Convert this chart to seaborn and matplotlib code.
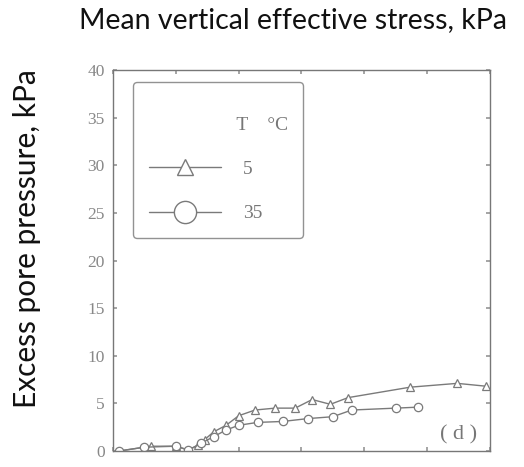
import matplotlib
matplotlib.use("Agg")
import matplotlib.pyplot as plt
from matplotlib.lines import Line2D
import seaborn as sns
import pandas as pd

# Data
x_5 = [1, 6, 10, 12, 13.5, 14.6, 16, 18, 20, 22.6, 25.8, 29, 31.7, 34.6, 37.4, 47.3, 54.8, 59.4]
y_5 = [0.0, 0.5, 0.5, 0.1, 0.6, 1.2, 2.0, 2.7, 3.7, 4.3, 4.5, 4.5, 5.4, 4.9, 5.6, 6.7, 7.1, 6.8]
x_35 = [1, 5, 10, 12, 14, 16, 18, 20, 23, 27, 31, 35, 38, 45, 48.5]
y_35 = [0.0, 0.4, 0.5, 0.1, 0.8, 1.5, 2.2, 2.7, 3.0, 3.1, 3.4, 3.6, 4.3, 4.5, 4.6]
temps = ["5", "35"]
y_ticks = [0, 5, 10, 15, 20, 25, 30, 35, 40]
x_ticks = [0, 10, 20, 30, 40, 50, 60]

df = pd.concat([
    pd.DataFrame({"x": x_5, "y": y_5, "T": temps[0]}),
    pd.DataFrame({"x": x_35, "y": y_35, "T": temps[1]}),
], ignore_index=True)

sns.set_theme(style="white")
plt.rcParams["font.family"] = ["DejaVu Sans"]

fig = plt.figure(figsize=(5.24, 4.67), dpi=100)
ax = fig.add_axes([0.2157, 0.0343, 0.7193, 0.8157])

gray = "#7a7a7a"
sns.lineplot(data=df, x="x", y="y", hue="T", style="T", sort=False,
             palette={temps[0]: gray, temps[1]: gray},
             markers={temps[0]: "^", temps[1]: "o"}, dashes=False,
             markersize=6, markerfacecolor="white", markeredgecolor=gray,
             markeredgewidth=0.9, linewidth=1.0, legend=False, ax=ax)

ax.set_xlim(0, 60)
ax.set_ylim(0, 40)
ax.set_xticks(x_ticks)
ax.set_xticklabels([])
ax.set_yticks(y_ticks)
ax.set_yticklabels([str(v) for v in y_ticks], family="Liberation Serif",
                   fontsize=12.5, color="#888888")
ax.tick_params(axis="both", which="both", direction="in", length=3,
               color="#999999", top=True, right=True, left=True, bottom=True,
               pad=6)
for s in ax.spines.values():
    s.set_color("#777777")
    s.set_linewidth(1.0)
ax.set_xlabel("")
ax.set_ylabel("")

fig.text(0.56, 0.957, "Mean vertical effective stress, kPa", ha="center",
         va="center", fontsize=20.5, family="Lato", color="#111111")
fig.text(0.052, 0.49, "Excess pore pressure, kPa", ha="center", va="center",
         rotation=90, fontsize=21.5, family="Lato", color="#111111")

ax.text(55, 1.7, "( d )", family="Liberation Serif", fontsize=16,
        color="#777777", ha="center", va="center")

handles = [
    Line2D([], [], color=gray, lw=1.0, marker="^", markersize=12,
           markerfacecolor="white", markeredgecolor=gray),
    Line2D([], [], color=gray, lw=1.0, marker="o", markersize=16,
           markerfacecolor="white", markeredgecolor=gray),
]
leg = ax.legend(handles, temps, title="\n                  T    °C",
                loc="upper left",
                bbox_to_anchor=(0.053, 0.9685), fancybox=True, frameon=True,
                handlelength=3.75, labelspacing=1.36, borderpad=0.8,
                handletextpad=1.1, borderaxespad=0.0,
                prop={"family": "Liberation Serif", "size": 14},
                alignment="left")
leg.get_title().set_fontfamily("Liberation Serif")
leg.get_title().set_fontsize(14)
leg.get_title().set_color("#777777")
for t in leg.get_texts():
    t.set_color("#777777")
leg.get_frame().set_edgecolor("#777777")
leg.get_frame().set_linewidth(1.0)

fig.savefig("out.png", dpi=100)
